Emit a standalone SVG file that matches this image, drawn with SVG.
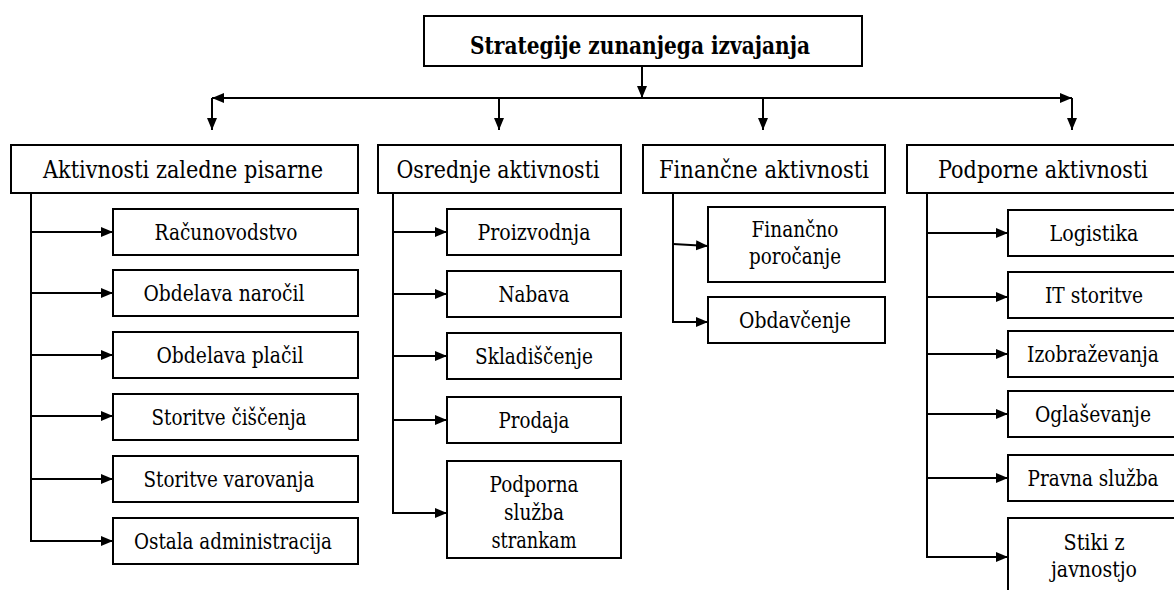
<svg xmlns="http://www.w3.org/2000/svg" width="1174" height="590" viewBox="0 0 1174 590">
  <defs>
    <marker id="arrow" markerUnits="userSpaceOnUse" markerWidth="13" markerHeight="11" refX="12" refY="5" orient="auto-start-reverse" viewBox="0 0 13 11">
      <path d="M0,0 L12,5 L0,10 z" fill="#000"/>
    </marker>
    <style>
      rect { fill: #fff; stroke: #000; stroke-width: 2; }
      text { font-family: 'DejaVu Serif', 'Liberation Serif', serif; fill: #000; text-anchor: middle; }
      .title { font-size: 24px; font-weight: bold; }
      .head { font-size: 24px; }
      .item { font-size: 21.5px; }
      .conn line, .conn path { stroke: #000; stroke-width: 2; fill: none; }
      .arr { marker-end: url(#arrow); }
    </style>
  </defs>
  <rect x="0" y="0" width="1174" height="590" style="fill:#fff;stroke:none"/>

  <!-- connectors -->
  <g id="connectors" class="conn">
    <!-- root to distribution bar -->
    <line class="arr" x1="642" y1="66" x2="642" y2="98"/>
    <line x1="212" y1="98" x2="1072" y2="98" style="marker-start:url(#arrow);marker-end:url(#arrow)"/>
    <line class="arr" x1="212" y1="98" x2="212" y2="130"/>
    <line class="arr" x1="499" y1="98" x2="499" y2="130"/>
    <line class="arr" x1="763" y1="98" x2="763" y2="130"/>
    <line class="arr" x1="1072" y1="98" x2="1072" y2="130"/>

    <!-- back office branch -->
    <path class="arr" d="M31,193 V541 H113"/>
    <line class="arr" x1="31" y1="232" x2="113" y2="232"/>
    <line class="arr" x1="31" y1="293" x2="113" y2="293"/>
    <line class="arr" x1="31" y1="355" x2="113" y2="355"/>
    <line class="arr" x1="31" y1="416" x2="113" y2="416"/>
    <line class="arr" x1="31" y1="479" x2="113" y2="479"/>

    <!-- core branch -->
    <path class="arr" d="M393,193 V513 H447"/>
    <line class="arr" x1="393" y1="232" x2="447" y2="232"/>
    <line class="arr" x1="393" y1="294" x2="447" y2="294"/>
    <line class="arr" x1="393" y1="356" x2="447" y2="356"/>
    <line class="arr" x1="393" y1="420" x2="447" y2="420"/>

    <!-- finance branch -->
    <path class="arr" d="M673,193 V322 H708"/>
    <line class="arr" x1="673" y1="244" x2="708" y2="246"/>

    <!-- support branch -->
    <path class="arr" d="M927,193 V557 H1008"/>
    <line class="arr" x1="927" y1="233" x2="1008" y2="233"/>
    <line class="arr" x1="927" y1="297" x2="1008" y2="297"/>
    <line class="arr" x1="927" y1="354" x2="1008" y2="354"/>
    <line class="arr" x1="927" y1="414" x2="1008" y2="414"/>
    <line class="arr" x1="927" y1="478" x2="1008" y2="478"/>
  </g>

  <!-- root -->
  <g id="root">
    <rect x="424" y="16" width="438" height="50"/>
    <text class="title" x="640" y="54" textLength="340" lengthAdjust="spacingAndGlyphs">Strategije zunanjega izvajanja</text>
  </g>

  <!-- category headers -->
  <g id="back-office">
    <rect x="11" y="145" width="347" height="48"/>
    <text class="head" x="183" y="178" textLength="280" lengthAdjust="spacingAndGlyphs">Aktivnosti zaledne pisarne</text>
  </g>
  <g id="core">
    <rect x="378" y="145" width="243" height="48"/>
    <text class="head" x="498" y="178" textLength="203" lengthAdjust="spacingAndGlyphs">Osrednje aktivnosti</text>
  </g>
  <g id="finance">
    <rect x="643" y="145" width="242" height="48"/>
    <text class="head" x="764" y="178" textLength="210" lengthAdjust="spacingAndGlyphs">Finančne aktivnosti</text>
  </g>
  <g id="support">
    <rect x="907" y="145" width="273" height="48"/>
    <text class="head" x="1043" y="178" textLength="210" lengthAdjust="spacingAndGlyphs">Podporne aktivnosti</text>
  </g>

  <!-- back office items -->
  <g id="racunovodstvo">
    <rect x="113" y="209" width="245" height="46"/>
    <text class="item" x="226" y="240" textLength="143" lengthAdjust="spacingAndGlyphs">Računovodstvo</text>
  </g>
  <g id="obdelava-narocil">
    <rect x="113" y="270" width="245" height="46"/>
    <text class="item" x="224" y="301" textLength="161" lengthAdjust="spacingAndGlyphs">Obdelava naročil</text>
  </g>
  <g id="obdelava-placil">
    <rect x="113" y="332" width="245" height="46"/>
    <text class="item" x="230" y="363" textLength="147" lengthAdjust="spacingAndGlyphs">Obdelava plačil</text>
  </g>
  <g id="ciscenje">
    <rect x="113" y="394" width="245" height="46"/>
    <text class="item" x="229" y="425" textLength="155" lengthAdjust="spacingAndGlyphs">Storitve čiščenja</text>
  </g>
  <g id="varovanje">
    <rect x="113" y="456" width="245" height="46"/>
    <text class="item" x="229" y="487" textLength="171" lengthAdjust="spacingAndGlyphs">Storitve varovanja</text>
  </g>
  <g id="administracija">
    <rect x="113" y="518" width="245" height="46"/>
    <text class="item" x="233" y="549" textLength="198" lengthAdjust="spacingAndGlyphs">Ostala administracija</text>
  </g>

  <!-- core items -->
  <g id="proizvodnja">
    <rect x="447" y="209" width="174" height="46"/>
    <text class="item" x="534" y="240" textLength="113" lengthAdjust="spacingAndGlyphs">Proizvodnja</text>
  </g>
  <g id="nabava">
    <rect x="447" y="271" width="174" height="46"/>
    <text class="item" x="534" y="302" textLength="71" lengthAdjust="spacingAndGlyphs">Nabava</text>
  </g>
  <g id="skladiscenje">
    <rect x="447" y="333" width="174" height="46"/>
    <text class="item" x="534" y="364" textLength="118" lengthAdjust="spacingAndGlyphs">Skladiščenje</text>
  </g>
  <g id="prodaja">
    <rect x="447" y="397" width="174" height="46"/>
    <text class="item" x="534" y="428" textLength="71" lengthAdjust="spacingAndGlyphs">Prodaja</text>
  </g>
  <g id="podporna-sluzba">
    <rect x="447" y="461" width="174" height="97"/>
    <text class="item" x="534" y="492" textLength="89" lengthAdjust="spacingAndGlyphs">Podporna</text>
    <text class="item" x="534" y="520" textLength="60" lengthAdjust="spacingAndGlyphs">služba</text>
    <text class="item" x="534" y="548" textLength="85" lengthAdjust="spacingAndGlyphs">strankam</text>
  </g>

  <!-- finance items -->
  <g id="financno-porocanje">
    <rect x="708" y="207" width="177" height="75"/>
    <text class="item" x="795" y="237" textLength="87" lengthAdjust="spacingAndGlyphs">Finančno</text>
    <text class="item" x="795" y="264" textLength="92" lengthAdjust="spacingAndGlyphs">poročanje</text>
  </g>
  <g id="obdavcenje">
    <rect x="708" y="297" width="177" height="46"/>
    <text class="item" x="795" y="328" textLength="112" lengthAdjust="spacingAndGlyphs">Obdavčenje</text>
  </g>

  <!-- support items -->
  <g id="logistika">
    <rect x="1008" y="210" width="172" height="46"/>
    <text class="item" x="1094" y="241" textLength="89" lengthAdjust="spacingAndGlyphs">Logistika</text>
  </g>
  <g id="it-storitve">
    <rect x="1008" y="272" width="172" height="46"/>
    <text class="item" x="1094" y="303" textLength="98" lengthAdjust="spacingAndGlyphs">IT storitve</text>
  </g>
  <g id="izobrazevanja">
    <rect x="1008" y="331" width="172" height="46"/>
    <text class="item" x="1093" y="362" textLength="132" lengthAdjust="spacingAndGlyphs">Izobraževanja</text>
  </g>
  <g id="oglasevanje">
    <rect x="1008" y="391" width="172" height="46"/>
    <text class="item" x="1093" y="422" textLength="116" lengthAdjust="spacingAndGlyphs">Oglaševanje</text>
  </g>
  <g id="pravna-sluzba">
    <rect x="1008" y="455" width="172" height="46"/>
    <text class="item" x="1093" y="486" textLength="131" lengthAdjust="spacingAndGlyphs">Pravna služba</text>
  </g>
  <g id="stiki-z-javnostjo">
    <rect x="1008" y="518" width="172" height="100"/>
    <text class="item" x="1094" y="550" textLength="61" lengthAdjust="spacingAndGlyphs">Stiki z</text>
    <text class="item" x="1094" y="577" textLength="86" lengthAdjust="spacingAndGlyphs">javnostjo</text>
  </g>
</svg>
